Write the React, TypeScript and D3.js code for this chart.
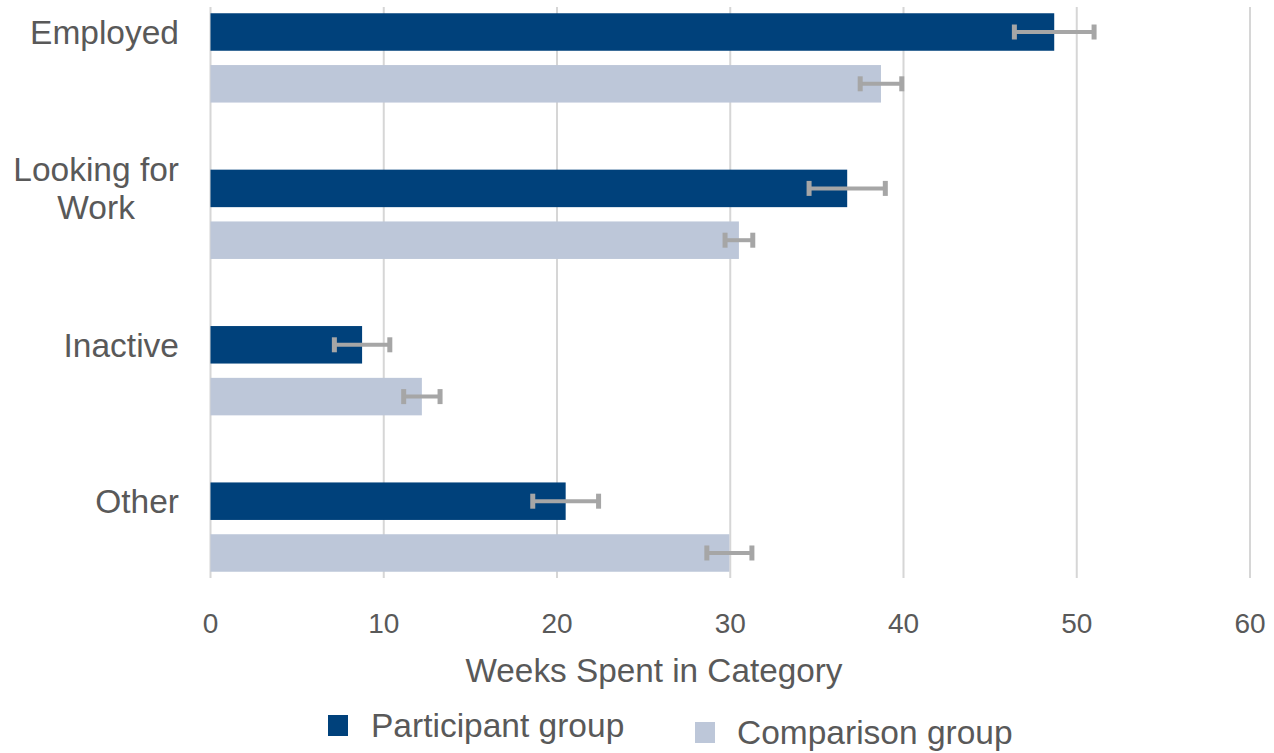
import { useEffect, useRef } from "react";
import * as d3 from "d3";

const CATEGORIES = ["Employed", "Looking for\nWork", "Inactive", "Other"];
const SERIES = ["Participant group", "Comparison group"];
const PARTICIPANT = [48.7, 36.75, 8.75, 20.5];
const PARTICIPANT_ERR = [2.3, 2.2, 1.6, 1.9];
const COMPARISON = [38.7, 30.5, 12.2, 29.95];
const COMPARISON_ERR = [1.2, 0.8, 1.05, 1.3];
const X_TICKS = [0, 10, 20, 30, 40, 50, 60];
const X_TITLE = "Weeks Spent in Category";

const WIDTH = 1274;
const HEIGHT = 753;
const PLOT = { left: 210.5, right: 1250, top: 7, bottom: 578 };
const COLORS = ["#00417b", "#bdc7d9"];
const TEXT = "#595959";
const GRID = "#d6d6d6";
const ERR = "#a6a6a6";
const FONT = "'Liberation Sans', Arial, sans-serif";

export default function App() {
  const gRef = useRef<SVGGElement>(null);

  useEffect(() => {
    document.body.style.margin = "0";
    if (!gRef.current) return;
    const g = d3.select(gRef.current);
    g.selectAll("*").remove();

    const x = d3.scaleLinear().domain([0, 60]).range([PLOT.left, PLOT.right]);
    const y = d3
      .scaleBand()
      .domain(CATEGORIES)
      .range([PLOT.top, PLOT.bottom])
      .paddingInner(0.429)
      .paddingOuter(0.04);
    const sub = d3
      .scaleBand()
      .domain(SERIES)
      .range([0, y.bandwidth()])
      .paddingInner(0.276);

    // gridlines
    g.append("g")
      .selectAll("line")
      .data(X_TICKS)
      .join("line")
      .attr("x1", (d) => x(d))
      .attr("x2", (d) => x(d))
      .attr("y1", PLOT.top)
      .attr("y2", PLOT.bottom)
      .attr("stroke", GRID)
      .attr("stroke-width", 2);

    // tick labels
    g.append("g")
      .selectAll("text")
      .data(X_TICKS)
      .join("text")
      .attr("x", (d) => x(d))
      .attr("y", 633)
      .attr("text-anchor", "middle")
      .attr("font-size", 28)
      .attr("fill", TEXT)
      .text((d) => String(d));

    const rows = CATEGORIES.flatMap((c, i) => [
      { cat: c, series: SERIES[0], value: PARTICIPANT[i], err: PARTICIPANT_ERR[i], color: COLORS[0] },
      { cat: c, series: SERIES[1], value: COMPARISON[i], err: COMPARISON_ERR[i], color: COLORS[1] },
    ]);

    // bars
    g.append("g")
      .selectAll("rect")
      .data(rows)
      .join("rect")
      .attr("x", x(0))
      .attr("y", (d) => (y(d.cat) ?? 0) + (sub(d.series) ?? 0))
      .attr("width", (d) => x(d.value) - x(0))
      .attr("height", sub.bandwidth())
      .attr("fill", (d) => d.color);

    // error bars
    const eb = g
      .append("g")
      .selectAll("g")
      .data(rows)
      .join("g")
      .attr(
        "transform",
        (d) => `translate(0,${(y(d.cat) ?? 0) + (sub(d.series) ?? 0) + sub.bandwidth() / 2})`
      );
    eb.append("line")
      .attr("x1", (d) => x(d.value - d.err))
      .attr("x2", (d) => x(d.value + d.err))
      .attr("stroke", ERR)
      .attr("stroke-width", 4);
    eb.selectAll("rect")
      .data((d) => [d.value - d.err, d.value + d.err])
      .join("rect")
      .attr("x", (v) => x(v) - 2.5)
      .attr("y", -7.5)
      .attr("width", 5)
      .attr("height", 15)
      .attr("fill", ERR);

    // category labels (centred on the first bar of each group)
    const right = 179;
    const lineGap = 38;
    CATEGORIES.forEach((c) => {
      const cy = (y(c) ?? 0) + (sub(SERIES[0]) ?? 0) + sub.bandwidth() / 2;
      const lines = c.split("\n");
      const t = g
        .append("text")
        .attr("font-size", 33.5)
        .attr("fill", TEXT)
        .attr("dominant-baseline", "central");
      lines.forEach((ln, i) => {
        t.append("tspan")
          .attr("x", 0)
          .attr("y", cy + (i - (lines.length - 1) / 2) * lineGap)
          .text(ln);
      });
      if (lines.length === 1) {
        t.attr("text-anchor", "end").selectAll("tspan").attr("x", right);
      } else {
        t.attr("text-anchor", "middle");
        const w = (t.node() as SVGTextElement).getBBox().width;
        t.selectAll("tspan").attr("x", right - w / 2);
      }
    });

    // axis title
    g.append("text")
      .attr("x", 654)
      .attr("y", 682)
      .attr("text-anchor", "middle")
      .attr("font-size", 33.3)
      .attr("fill", TEXT)
      .text(X_TITLE);

    // legend
    const legend = [
      { label: SERIES[0], color: COLORS[0], sx: 328, sy: 715, tx: 371, ty: 737 },
      { label: SERIES[1], color: COLORS[1], sx: 695, sy: 722, tx: 737, ty: 744 },
    ];
    const lg = g.append("g").selectAll("g").data(legend).join("g");
    lg.append("rect")
      .attr("x", (d) => d.sx)
      .attr("y", (d) => d.sy)
      .attr("width", 20)
      .attr("height", 21)
      .attr("fill", (d) => d.color);
    lg.append("text")
      .attr("x", (d) => d.tx)
      .attr("y", (d) => d.ty)
      .attr("font-size", 33.5)
      .attr("fill", TEXT)
      .text((d) => d.label);
  }, []);

  return (
    <svg
      width={WIDTH}
      height={HEIGHT}
      style={{ display: "block", background: "#fff", fontFamily: FONT }}
    >
      <g ref={gRef} />
    </svg>
  );
}
